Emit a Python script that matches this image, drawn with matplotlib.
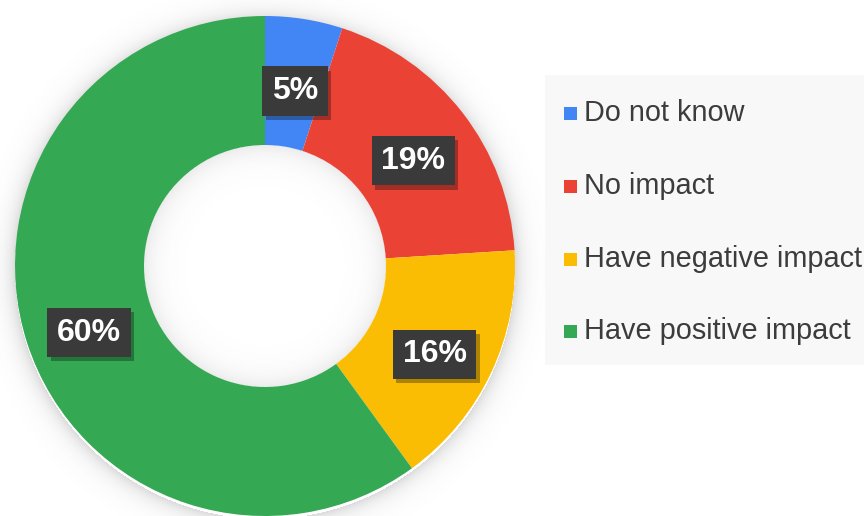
import numpy as np
import matplotlib
matplotlib.use("Agg")
import matplotlib.pyplot as plt
from matplotlib.patches import Rectangle
import matplotlib.patheffects as pe

categories = ["Do not know", "No impact", "Have negative impact", "Have positive impact"]
values = [5, 19, 16, 60]
labels = ["5%", "19%", "16%", "60%"]
colors = ["#4285F4", "#EA4335", "#FBBC04", "#34A853"]

W, H = 864, 516
fig = plt.figure(figsize=(W / 100, H / 100), dpi=100)
fig.patch.set_facecolor("white")
ax = fig.add_axes([0, 0, 1, 1])

cx, cy = 265, 250
R = 250
r_in = 121

# soft shadow around donut and inside hole
yy, xx = np.mgrid[0:H, 0:W] + 0.5
d = np.hypot(xx - cx, (yy - (cy - 3)))
alpha = np.zeros_like(d)
outer = d > R
alpha[outer] = 0.22 * np.exp(-(d[outer] - R) / 9.0)
d2 = np.hypot(xx - cx, yy - cy)
inner = d2 < r_in
alpha[inner] = 0.12 * np.exp(-(r_in - d2[inner]) / 12.0)
img = np.zeros((H, W, 4))
img[..., :3] = 0.35
img[..., 3] = alpha
ax.imshow(img, extent=(0, W, 0, H), origin="lower", zorder=0, interpolation="bilinear")

wedges, _ = ax.pie(values, colors=colors, startangle=90, counterclock=False,
                   center=(cx, cy), radius=R, frame=True,
                   wedgeprops=dict(width=R - r_in, linewidth=0))
ax.set_xlim(0, W)
ax.set_ylim(0, H)
ax.set_aspect("equal")
ax.axis("off")

lab_r = 0.745 * R
for w, lab in zip(wedges, labels):
    ang = np.deg2rad((w.theta1 + w.theta2) / 2)
    x = cx + lab_r * np.cos(ang) + 1
    y = cy + lab_r * np.sin(ang) - 9
    t = ax.text(x, y, lab, ha="center", va="center", fontsize=23, fontweight="bold",
                family="Liberation Sans", color="white",
                bbox=dict(boxstyle="square,pad=0.3", facecolor="#3a3a3a", edgecolor="none"),
                zorder=5)
    t.get_bbox_patch().set_path_effects([
        pe.SimplePatchShadow(offset=(2.5, -3), shadow_rgbFace="black", alpha=0.3),
        pe.Normal()])

# legend panel
ax.add_patch(Rectangle((545, H - 365), W - 545 + 5, 290, facecolor="#f8f8f8",
                       edgecolor="none", zorder=1))
row_y = [113, 186, 259, 331]
for cat, col, ry in zip(categories, colors, row_y):
    yb = H - ry
    ax.add_patch(Rectangle((564, yb - 7), 13, 13, facecolor=col, edgecolor="none", zorder=2))
    ax.text(584, yb, cat, ha="left", va="center", fontsize=20.8, family="Liberation Sans",
            color="#3c3c3c", zorder=2)

fig.savefig("out.png", dpi=100, facecolor="white")
